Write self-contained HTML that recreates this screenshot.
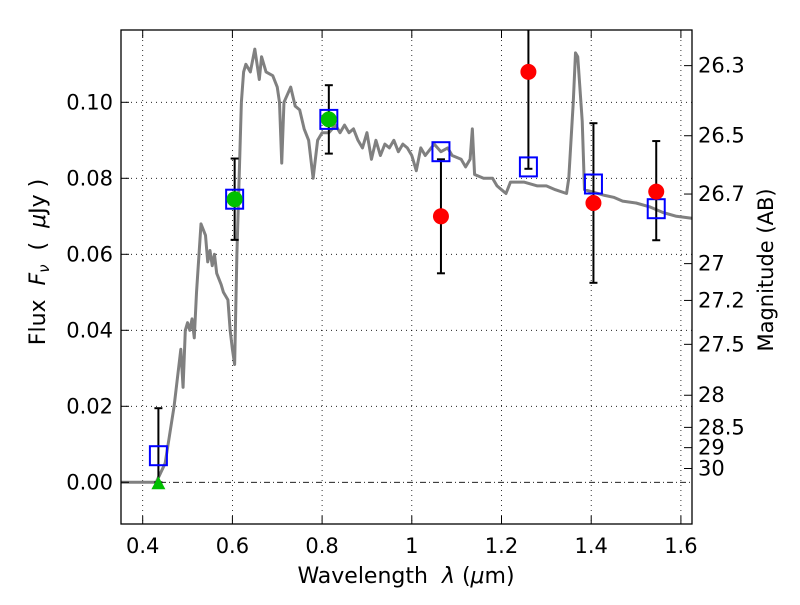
<!DOCTYPE html>
<html><head><meta charset="utf-8"><style>
body{margin:0;background:#fff;}
svg text{font-family:"DejaVu Sans","Liberation Sans",sans-serif;fill:#000;}
</style></head><body>
<svg id="c" width="800" height="600" xmlns="http://www.w3.org/2000/svg">
<rect width="800" height="600" fill="#fff"/>
<g id="grid"></g>
<g id="plot"></g>
<rect x="121" y="30" width="571" height="494" fill="none" stroke="#000" stroke-width="1.3"/>
<g id="axes"></g>
<text x="406" y="583" font-size="22" text-anchor="middle" xml:space="preserve">Wavelength  <tspan font-style="italic">λ</tspan> (<tspan font-style="italic">μ</tspan>m)</text>
<text transform="translate(45,262) rotate(-90)" font-size="22" text-anchor="middle" xml:space="preserve">Flux  <tspan font-style="italic">F<tspan font-size="15" dy="4">ν</tspan></tspan><tspan dy="-4">  (  </tspan><tspan font-style="italic">μ</tspan>Jy )</text>
<text transform="translate(773,270) rotate(-90)" font-size="21" text-anchor="middle">Magnitude (AB)</text>
</svg>
<script>
const xTicks=[0.4,0.6,0.8,1.0,1.2,1.4,1.6];
const xTickLabels=["0.4","0.6","0.8","1","1.2","1.4","1.6"];
const yTicks=[0,0.02,0.04,0.06,0.08,0.10];
const yTickLabels=["0.00","0.02","0.04","0.06","0.08","0.10"];
const magTicks=[26.3,26.5,26.7,27,27.2,27.5,28,28.5,29,30];
const magLabels=["26.3","26.5","26.7","27","27.2","27.5","28","28.5","29","30"];
const specW=[0.352,0.43,0.45,0.47,0.48,0.485,0.49,0.495,0.5,0.505,0.51,0.515,0.52,0.53,0.54,0.545,0.55,0.555,0.56,0.565,0.575,0.58,0.59,0.595,0.6,0.605,0.61,0.62,0.625,0.63,0.64,0.65,0.66,0.665,0.675,0.69,0.70,0.705,0.71,0.715,0.73,0.74,0.75,0.76,0.77,0.78,0.79,0.80,0.815,0.83,0.84,0.85,0.86,0.87,0.88,0.89,0.90,0.91,0.92,0.93,0.94,0.95,0.96,0.97,0.98,0.99,1.0,1.01,1.02,1.03,1.05,1.065,1.08,1.09,1.11,1.12,1.13,1.135,1.14,1.16,1.18,1.19,1.20,1.21,1.22,1.25,1.28,1.30,1.32,1.345,1.35,1.36,1.365,1.37,1.38,1.385,1.40,1.43,1.45,1.47,1.50,1.53,1.56,1.59,1.624];
const specF=[0,0,0.005,0.02,0.03,0.035,0.025,0.04,0.042,0.04,0.043,0.038,0.05,0.068,0.065,0.058,0.061,0.057,0.06,0.055,0.052,0.05,0.048,0.04,0.035,0.031,0.06,0.1,0.108,0.11,0.108,0.114,0.106,0.112,0.108,0.107,0.104,0.10,0.084,0.10,0.104,0.099,0.098,0.093,0.09,0.08,0.09,0.092,0.092,0.094,0.092,0.094,0.092,0.093,0.09,0.088,0.092,0.085,0.090,0.086,0.089,0.088,0.090,0.087,0.089,0.088,0.086,0.082,0.088,0.086,0.089,0.087,0.088,0.086,0.085,0.083,0.085,0.093,0.081,0.080,0.080,0.078,0.077,0.076,0.079,0.079,0.078,0.078,0.077,0.076,0.080,0.100,0.113,0.112,0.095,0.077,0.0765,0.0755,0.075,0.074,0.0735,0.0725,0.071,0.070,0.0695];
const modelW=[0.435,0.605,0.815,1.065,1.26,1.405,1.545];
const modelF=[0.007,0.0745,0.0955,0.087,0.083,0.0785,0.072];
const greenW=[0.605,0.815];
const greenF=[0.0745,0.0955];
const greenHi=[0.0852,0.1045];
const greenLo=[0.0638,0.0865];
const redW=[1.065,1.26,1.405,1.545];
const redF=[0.070,0.108,0.0735,0.0765];
const redHi=[0.085,0.125,0.0945,0.0898];
const redLo=[0.055,0.0825,0.0525,0.0637];
const limW=[0.435];
const limHi=[0.0195];

const NS="http://www.w3.org/2000/svg";
const X=w=>142.7+(w-0.4)*448.5;
const Y=f=>482.3-f*3800;
const magY=m=>Y(Math.pow(10,(23.9-m)/2.5));
function mk(p,t,a){const e=document.createElementNS(NS,t);for(const k in a)e.setAttribute(k,a[k]);p.appendChild(e);return e;}
const grid=document.getElementById('grid'),plot=document.getElementById('plot'),axes=document.getElementById('axes');
xTicks.forEach((w,i)=>{
 const g=mk(grid,'line',{x1:X(w),x2:X(w),y1:30,y2:524,stroke:'#000','stroke-width':0.8,'stroke-dasharray':'1,4'});
 
 
 mk(axes,'line',{x1:X(w),x2:X(w),y1:524,y2:516,stroke:'#000'});
 mk(axes,'line',{x1:X(w),x2:X(w),y1:30,y2:38,stroke:'#000'});
 const t=mk(axes,'text',{x:X(w),y:553,'font-size':21,'text-anchor':'middle'});t.textContent=xTickLabels[i];
 
 
});
yTicks.forEach((f,i)=>{
 const g=mk(grid,'line',{x1:121,x2:692,y1:Y(f),y2:Y(f),stroke:'#000','stroke-width':0.8,'stroke-dasharray':f===0?'6,3,1,3':'1,4'});
 
 
 mk(axes,'line',{x1:121,x2:129,y1:Y(f),y2:Y(f),stroke:'#000'});
 const t=mk(axes,'text',{x:113,y:Y(f)+7,'font-size':21,'text-anchor':'end'});t.textContent=yTickLabels[i];
 
 
});
magTicks.forEach((m,i)=>{
 const y=magY(m);
 mk(axes,'line',{x1:692,x2:684,y1:y,y2:y,stroke:'#000'});
 const t=mk(axes,'text',{x:698,y:y+7,'font-size':21});t.textContent=magLabels[i];
 
 
});
const cp=mk(document.getElementById('c'),'clipPath',{id:'cl'});mk(cp,'rect',{x:121,y:30,width:571,height:494});
plot.setAttribute('clip-path','url(#cl)');
const sp=mk(plot,'polyline',{points:specW.map((w,i)=>X(w)+','+Y(specF[i])).join(' '),fill:'none',stroke:'#808080','stroke-width':3,'stroke-linejoin':'round'});


function err(w,lo,hi){mk(plot,'line',{x1:X(w),x2:X(w),y1:Y(lo),y2:Y(hi),stroke:'#000','stroke-width':2});
 [lo,hi].forEach(v=>mk(plot,'line',{x1:X(w)-4,x2:X(w)+4,y1:Y(v),y2:Y(v),stroke:'#000','stroke-width':2}));}
limW.forEach((w,i)=>{err(w,0,limHi[i]);
 const p=mk(plot,'polygon',{points:`${X(w)-7},${Y(0)+7} ${X(w)+7},${Y(0)+7} ${X(w)},${Y(0)-6}`,fill:'#00c000'});
 
 });
greenW.forEach((w,i)=>err(w,greenLo[i],greenHi[i]));
redW.forEach((w,i)=>err(w,redLo[i],redHi[i]));
modelW.forEach((w,i)=>{const r=mk(plot,'rect',{x:X(w)-8.5,y:Y(modelF[i])-9.5,width:17,height:19,fill:'none',stroke:'#0000ff','stroke-width':2});
 
 });
greenW.forEach((w,i)=>{const c=mk(plot,'circle',{cx:X(w),cy:Y(greenF[i]),r:8,fill:'#00c000'});
 
 });
redW.forEach((w,i)=>{const c=mk(plot,'circle',{cx:X(w),cy:Y(redF[i]),r:8,fill:'#ff0000'});
 
 });
</script>
</body></html>
